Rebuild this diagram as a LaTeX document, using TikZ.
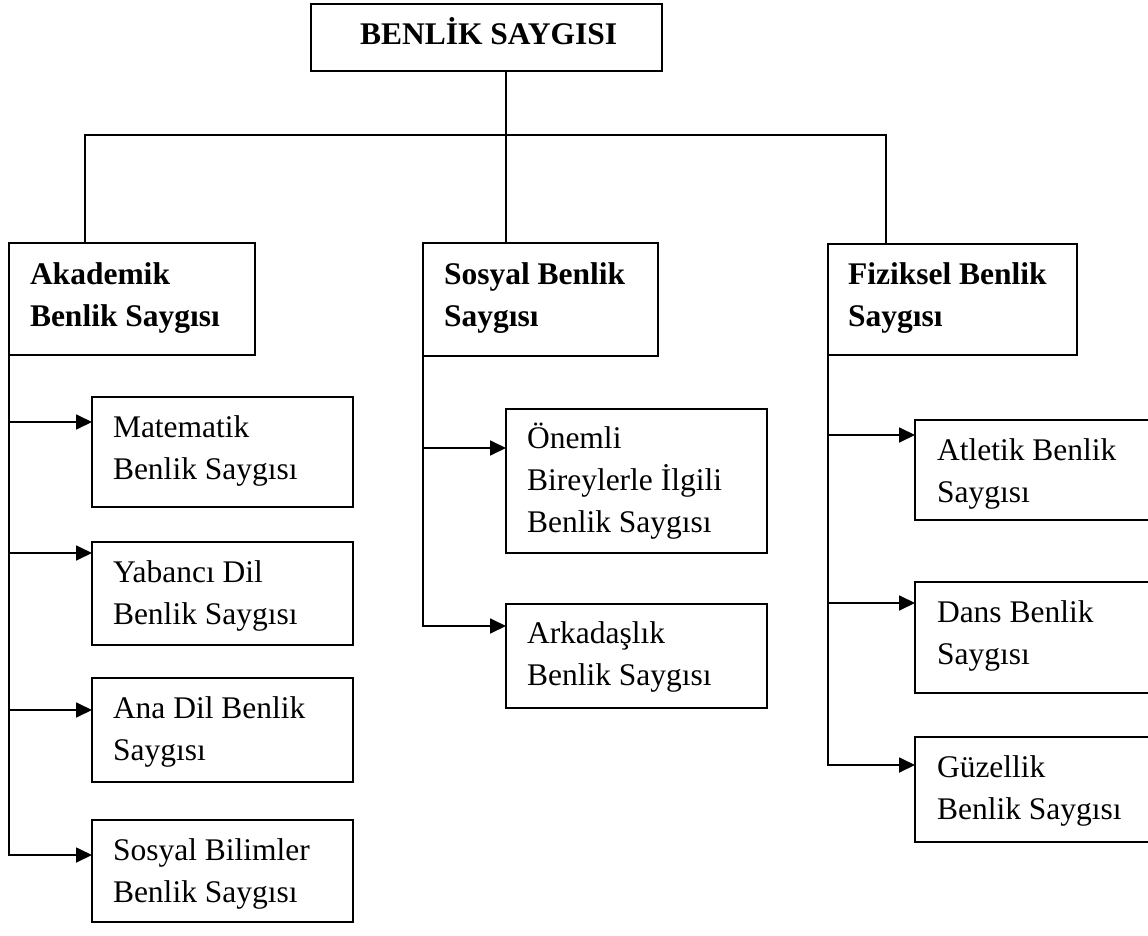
\documentclass[tikz,border=0pt]{standalone}
\usepackage{fontspec}
\setmainfont{Liberation Serif}
\usetikzlibrary{arrows.meta,calc}
\newcommand{\mlines}[1]{\begin{tabular}[t]{@{}l@{}}#1\end{tabular}}
\begin{document}
\begin{tikzpicture}[x=1pt,y=-1pt,
  box/.style={draw, line width=1.8pt, rectangle, inner sep=0pt, outer sep=0pt, anchor=north west},
  lbl/.style={anchor=base west, inner sep=0pt, outer sep=0pt, font=\fontsize{31.5}{42}\selectfont},
  blbl/.style={anchor=base west, inner sep=0pt, outer sep=0pt, font=\fontsize{31.5}{42}\selectfont\bfseries},
  conn/.style={line width=1.8pt},
  arr/.style={conn, -{Triangle[length=16pt,width=15pt]}}]
\clip (0,0) rectangle (1148,936);
\fill[white] (0,0) rectangle (1148,936);
% top
\node[box, minimum width=351pt, minimum height=67pt] (title) at (311,4) {};
\node[blbl] (titleT) at ($(title.north west)+(49,41)$) {BENLİK SAYGISI};
% level 2
\node[box, minimum width=246pt, minimum height=112pt] (aka) at (9,243) {};
\node[box, minimum width=235pt, minimum height=113pt] (sos) at (423,243) {};
\node[box, minimum width=249pt, minimum height=111pt] (fiz) at (828,244) {};
\node[blbl] (akaT) at ($(aka.north west)+(21,41)$) {\mlines{Akademik\\Benlik Saygısı}};
\node[blbl] (sosT) at ($(sos.north west)+(21,41)$) {\mlines{Sosyal Benlik\\Saygısı}};
\node[blbl] (fizT) at ($(fiz.north west)+(20,40)$) {\mlines{Fiziksel Benlik\\Saygısı}};
% level 3 left
\node[box, minimum width=261pt, minimum height=110pt] (mat) at (92,397) {};
\node[box, minimum width=261pt, minimum height=103pt] (yab) at (92,542) {};
\node[box, minimum width=261pt, minimum height=104pt] (ana) at (92,678) {};
\node[box, minimum width=261pt, minimum height=102pt] (sb) at (92,820) {};
\node[lbl] (matT) at ($(mat.north west)+(21,40)$) {\mlines{Matematik\\Benlik Saygısı}};
\node[lbl] (yabT) at ($(yab.north west)+(21,40)$) {\mlines{Yabancı Dil\\Benlik Saygısı}};
\node[lbl] (anaT) at ($(ana.north west)+(21,40)$) {\mlines{Ana Dil Benlik\\Saygısı}};
\node[lbl] (sbT) at ($(sb.north west)+(21,40)$) {\mlines{Sosyal Bilimler\\Benlik Saygısı}};
% level 3 middle
\node[box, minimum width=261pt, minimum height=144pt] (one) at (506,409) {};
\node[box, minimum width=261pt, minimum height=104pt] (ark) at (506,604) {};
\node[lbl] (oneT) at ($(one.north west)+(21,39)$) {\mlines{Önemli\\Bireylerle İlgili\\Benlik Saygısı}};
\node[lbl] (arkT) at ($(ark.north west)+(21,39)$) {\mlines{Arkadaşlık\\Benlik Saygısı}};
% level 3 right
\node[box, minimum width=260pt, minimum height=100pt] (atl) at (915,420) {};
\node[box, minimum width=260pt, minimum height=111pt] (dan) at (915,582) {};
\node[box, minimum width=260pt, minimum height=105pt] (guz) at (915,737) {};
\node[lbl] (atlT) at ($(atl.north west)+(22,40)$) {\mlines{Atletik Benlik\\Saygısı}};
\node[lbl] (danT) at ($(dan.north west)+(22,40)$) {\mlines{Dans Benlik\\Saygısı}};
\node[lbl] (guzT) at ($(guz.north west)+(22,40)$) {\mlines{Güzellik\\Benlik Saygısı}};
% connectors top
\coordinate (hl) at (85,135);
\coordinate (hm) at (506,135);
\coordinate (hr) at (886,135);
\draw[conn] (title.south -| hm) -- (sos.north -| hm);
\draw[conn] (aka.north -| hl) -- (hl) -- (hr) -- (fiz.north -| hr);
% left trunk
\coordinate (a1) at (9,422);
\coordinate (a2) at (9,553);
\coordinate (a3) at (9,710);
\coordinate (a4) at (9,855);
\draw[arr] (aka.south west) -- (a4) -- (a4 -| sb.west);
\draw[arr] (a1) -- (a1 -| mat.west);
\draw[arr] (a2) -- (a2 -| yab.west);
\draw[arr] (a3) -- (a3 -| ana.west);
% middle trunk
\coordinate (s1) at (423,448);
\coordinate (s2) at (423,626);
\draw[arr] (sos.south west) -- (s2) -- (s2 -| ark.west);
\draw[arr] (s1) -- (s1 -| one.west);
% right trunk
\coordinate (f1) at (828,435);
\coordinate (f2) at (828,603);
\coordinate (f3) at (828,765);
\draw[arr] (fiz.south west) -- (f3) -- (f3 -| guz.west);
\draw[arr] (f1) -- (f1 -| atl.west);
\draw[arr] (f2) -- (f2 -| dan.west);
\end{tikzpicture}
\end{document}
